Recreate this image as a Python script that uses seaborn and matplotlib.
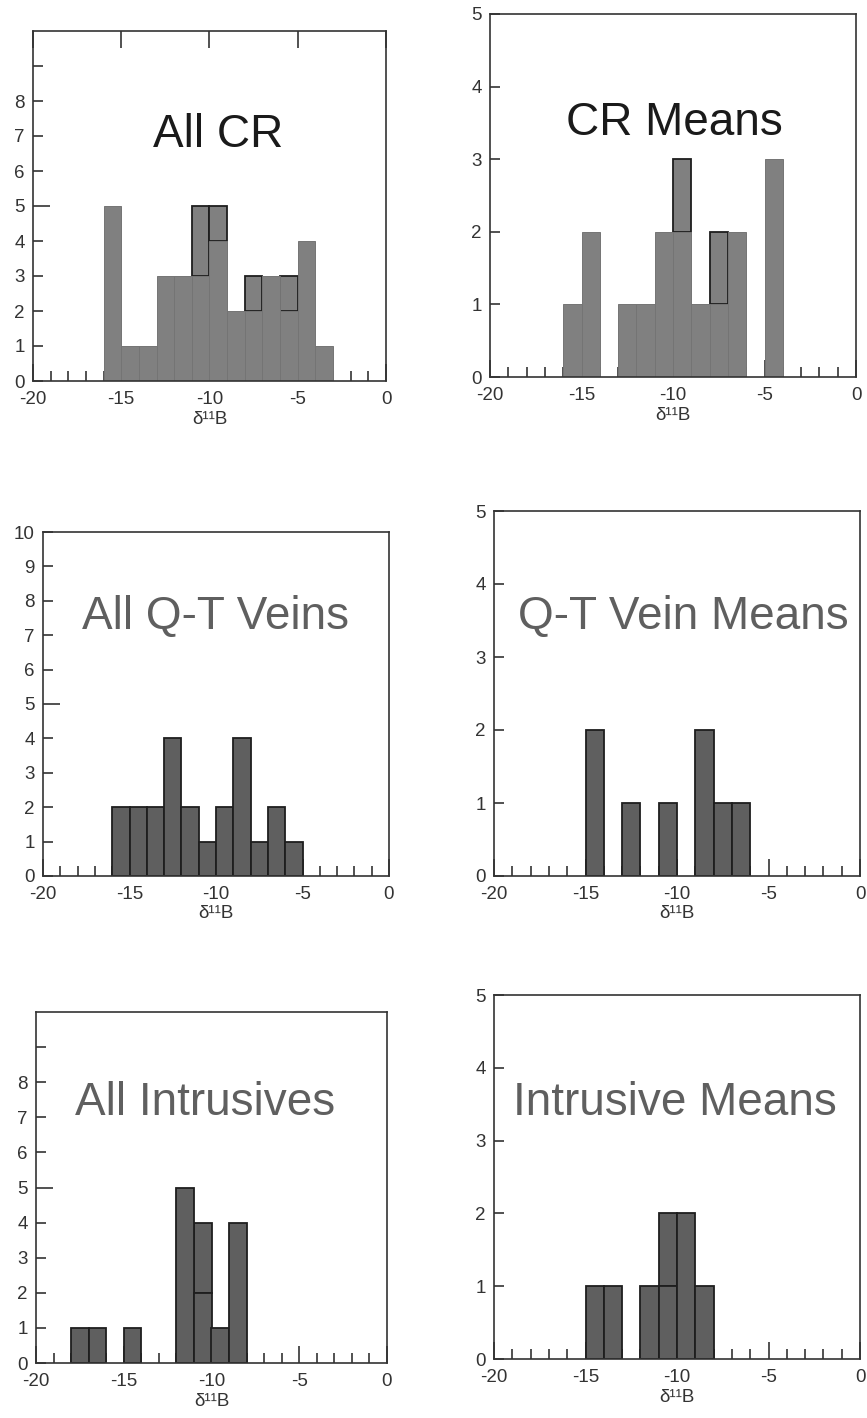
import numpy as np
import pandas as pd
import matplotlib
matplotlib.use("Agg")
import matplotlib.pyplot as plt
import seaborn as sns
from matplotlib.ticker import MultipleLocator, FixedLocator, FixedFormatter

# δ11B histograms: left edge of each 1 per-mil bin and the count in it.
# "UPPER" counts are the outlined segments stacked on top of the plain ones.
CR_ALL_BINS = [-16, -15, -14, -13, -12, -11, -10, -9, -8, -7, -6, -5, -4]
CR_ALL_LOWER = [5, 1, 1, 3, 3, 3, 4, 2, 2, 3, 2, 4, 1]
CR_ALL_UPPER = [0, 0, 0, 0, 0, 2, 1, 0, 1, 0, 1, 0, 0]

CR_MEAN_BINS = [-16, -15, -14, -13, -12, -11, -10, -9, -8, -7, -6, -5]
CR_MEAN_LOWER = [1, 2, 0, 1, 1, 2, 2, 1, 1, 2, 0, 3]
CR_MEAN_UPPER = [0, 0, 0, 0, 0, 0, 1, 0, 1, 0, 0, 0]

QT_ALL_BINS = [-16, -15, -14, -13, -12, -11, -10, -9, -8, -7, -6]
QT_ALL_COUNTS = [2, 2, 2, 4, 2, 1, 2, 4, 1, 2, 1]

QT_MEAN_BINS = [-15, -14, -13, -12, -11, -10, -9, -8, -7]
QT_MEAN_COUNTS = [2, 0, 1, 0, 1, 0, 2, 1, 1]

INT_ALL_BINS = [-18, -17, -16, -15, -14, -13, -12, -11, -10, -9]
INT_ALL_LOWER = [1, 1, 0, 1, 0, 0, 5, 2, 1, 4]
INT_ALL_UPPER = [0, 0, 0, 0, 0, 0, 0, 2, 0, 0]

INT_MEAN_BINS = [-15, -14, -13, -12, -11, -10, -9]
INT_MEAN_LOWER = [1, 1, 0, 1, 1, 2, 1]
INT_MEAN_UPPER = [0, 0, 0, 0, 1, 0, 0]

TITLES = ["All CR", "CR Means", "All Q-T Veins", "Q-T Vein Means",
          "All Intrusives", "Intrusive Means"]
X_LABEL = "δ¹¹B"

sns.set_style("ticks")
plt.rcParams["font.family"] = ["Liberation Sans", "DejaVu Sans"]
plt.rcParams["axes.unicode_minus"] = False

W, H = 867, 1418
fig = plt.figure(figsize=(W / 100, H / 100), dpi=100)

AX_COLOR = "#333333"
LIGHT_FILL = "#808080"
DARK_FILL = "#5f5f5f"
OUTLINE = "#1e1e1e"


def add_axes_px(left, right, top, bottom):
    return fig.add_axes([left / W, 1 - bottom / H, (right - left) / W, (bottom - top) / H])


def draw_hist(ax, bins, lower, upper, fill, lower_edge, lower_lw):
    bins = np.asarray(bins, dtype=float)
    centers = bins + 0.5
    brange = (float(bins.min()), float(bins.max() + 1))
    if upper is not None and any(upper):
        df = pd.DataFrame({
            "d11B": np.r_[centers, centers],
            "n": np.r_[lower, upper].astype(float),
            "layer": ["lower"] * len(bins) + ["upper"] * len(bins),
        })
        sns.histplot(data=df, x="d11B", weights="n", hue="layer",
                     hue_order=["upper", "lower"], multiple="stack",
                     binwidth=1, binrange=brange,
                     palette={"lower": fill, "upper": fill},
                     alpha=1, legend=False, ax=ax)
    else:
        df = pd.DataFrame({"d11B": centers, "n": np.asarray(lower, dtype=float)})
        sns.histplot(data=df, x="d11B", weights="n", binwidth=1, binrange=brange,
                     color=fill, alpha=1, legend=False, ax=ax)
    for p in ax.patches:
        if p.get_height() <= 0:
            p.set_visible(False)
            continue
        p.set_facecolor(fill)
        if p.get_y() > 0:
            # stacked, outlined segment sits beneath neighbouring bars
            p.set_edgecolor(OUTLINE)
            p.set_linewidth(1.3)
            p.set_zorder(0.9)
        else:
            p.set_edgecolor(lower_edge)
            p.set_linewidth(lower_lw)
            p.set_zorder(1.0)


def style_axes(ax, ymax, ylabels_upto, long_ytick, top_major=False):
    ax.set_xlim(-20, 0)
    ax.set_ylim(0, ymax)
    ax.set_axisbelow(True)
    for s in ax.spines.values():
        s.set_visible(True)
        s.set_color(AX_COLOR)
        s.set_linewidth(1.2)
    ax.xaxis.set_major_locator(MultipleLocator(5))
    ax.xaxis.set_minor_locator(MultipleLocator(1))
    ax.tick_params(axis="x", which="major", direction="in", length=12, width=1.2,
                   color=AX_COLOR, labelcolor=AX_COLOR, labelsize=13.5, pad=7,
                   bottom=True, top=top_major, labeltop=False)
    ax.tick_params(axis="x", which="minor", direction="in", length=7, width=1.2,
                   color=AX_COLOR, bottom=True, top=False)
    yt = list(range(0, ymax if ymax == 10 and ylabels_upto < 10 else ymax + 1))
    ax.yaxis.set_major_locator(FixedLocator(yt))
    ax.yaxis.set_major_formatter(FixedFormatter(
        [str(v) if v <= ylabels_upto else "" for v in yt]))
    ax.tick_params(axis="y", which="major", direction="in", length=7, width=1.2,
                   color=AX_COLOR, labelcolor=AX_COLOR, labelsize=13.5, pad=6,
                   left=True, right=False)
    ax.tick_params(axis="y", which="minor", left=False, right=False)
    if long_ytick is not None:
        for t, v in zip(ax.yaxis.get_major_ticks(len(yt)), yt):
            if v == long_ytick:
                t.tick1line.set_markersize(12)
    ax.set_xlabel(X_LABEL, fontsize=13.5, color=AX_COLOR, labelpad=2)
    ax.set_ylabel("")


def add_title(ax, text, x, y, color):
    ax.text(x, y, text, transform=ax.transAxes, ha="center", va="baseline",
            fontsize=33, color=color, zorder=5)


# top row: crystalline rocks
ax1 = add_axes_px(33, 386, 31, 381)
draw_hist(ax1, CR_ALL_BINS, CR_ALL_LOWER, CR_ALL_UPPER, LIGHT_FILL, "#747474", 0.7)
style_axes(ax1, 10, 8, 5, top_major=True)
add_title(ax1, TITLES[0], 0.524, 0.669, "#1a1a1a")

ax2 = add_axes_px(490, 856, 14, 377)
draw_hist(ax2, CR_MEAN_BINS, CR_MEAN_LOWER, CR_MEAN_UPPER, LIGHT_FILL, "#747474", 0.7)
style_axes(ax2, 5, 5, None)
add_title(ax2, TITLES[1], 0.503, 0.667, "#1a1a1a")

# middle row: quartz-tourmaline veins
ax3 = add_axes_px(43, 389, 532, 876)
draw_hist(ax3, QT_ALL_BINS, QT_ALL_COUNTS, None, DARK_FILL, OUTLINE, 1.3)
style_axes(ax3, 10, 10, 5)
add_title(ax3, TITLES[2], 0.499, 0.718, "#5f5f5f")

ax4 = add_axes_px(494, 860, 511, 876)
draw_hist(ax4, QT_MEAN_BINS, QT_MEAN_COUNTS, None, DARK_FILL, OUTLINE, 1.3)
style_axes(ax4, 5, 5, None)
add_title(ax4, TITLES[3], 0.516, 0.676, "#5f5f5f")

# bottom row: intrusives
ax5 = add_axes_px(36, 387, 1012, 1363)
draw_hist(ax5, INT_ALL_BINS, INT_ALL_LOWER, INT_ALL_UPPER, DARK_FILL, OUTLINE, 1.3)
style_axes(ax5, 10, 8, 5)
add_title(ax5, TITLES[4], 0.481, 0.707, "#5f5f5f")

ax6 = add_axes_px(494, 860, 995, 1359)
draw_hist(ax6, INT_MEAN_BINS, INT_MEAN_LOWER, INT_MEAN_UPPER, DARK_FILL, OUTLINE, 1.3)
style_axes(ax6, 5, 5, None)
add_title(ax6, TITLES[5], 0.495, 0.670, "#5f5f5f")

fig.savefig("out.png", dpi=100)
